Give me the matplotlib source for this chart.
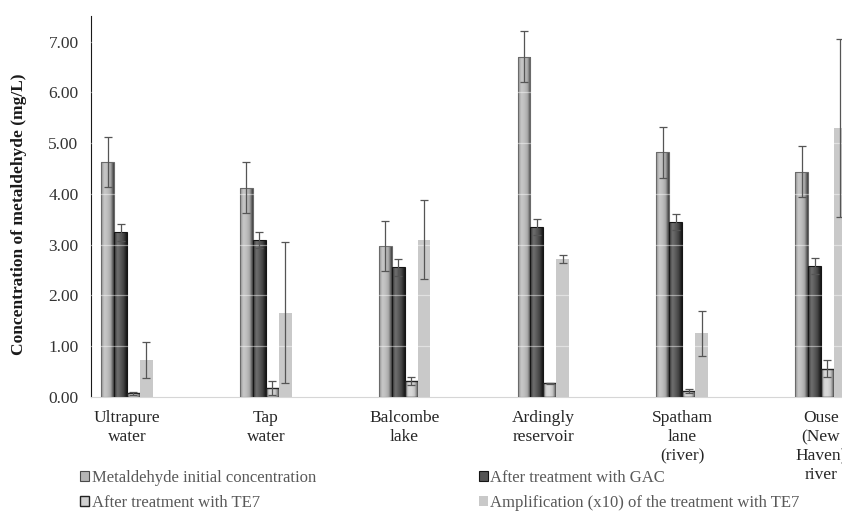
import matplotlib
matplotlib.use("Agg")
import matplotlib.pyplot as plt
from matplotlib.colors import LinearSegmentedColormap
from matplotlib.patches import Patch
import numpy as np

plt.rcParams["font.family"] = ["Liberation Serif", "DejaVu Serif"]

# Sample sites and measured metaldehyde concentrations (mg/L)
sites = ["Ultrapure\nwater", "Tap\nwater", "Balcombe\nlake", "Ardingly\nreservoir",
         "Spatham\nlane\n(river)", "Ouse\n(New\nHaven)\nriver"]
initial = [4.63, 4.12, 2.97, 6.71, 4.82, 4.44]
initial_err = [0.50, 0.50, 0.50, 0.50, 0.50, 0.50]
gac = [3.24, 3.09, 2.55, 3.34, 3.44, 2.58]
gac_err = [0.17, 0.15, 0.16, 0.16, 0.16, 0.16]
te7 = [0.07, 0.17, 0.31, 0.27, 0.12, 0.55]
te7_err = [0.03, 0.14, 0.08, 0.01, 0.04, 0.17]
amp = [0.72, 1.66, 3.10, 2.71, 1.25, 5.30]
amp_err = [0.35, 1.39, 0.78, 0.08, 0.44, 1.76]
yticks = [0, 1, 2, 3, 4, 5, 6, 7]

series_names = ["Metaldehyde initial concentration", "After treatment with GAC",
                "After treatment with TE7", "Amplification (x10) of the treatment with TE7"]

W, H = 842, 515
fig = plt.figure(figsize=(W / 100, H / 100), dpi=100)
fig.set_facecolor("white")

# axes spans past the right edge so the last group gets cut off
ax = fig.add_axes([91 / W, (H - 396.7) / H, 799.4 / W, 380.25 / H])
ax.set_facecolor("white")

x = np.arange(len(sites))
bw = 0.093


def shade(bars, stops):
    """Fill each bar with a horizontal gradient, like a bevelled column."""
    cmap = LinearSegmentedColormap.from_list("shade", stops)
    grad = np.linspace(0, 1, 64).reshape(1, -1)
    for b in bars:
        x0, y0 = b.get_x(), b.get_y()
        im = ax.imshow(grad, cmap=cmap, aspect="auto", interpolation="bicubic",
                       extent=(x0, x0 + b.get_width(), y0, y0 + b.get_height()),
                       zorder=2.5)
        im.set_clip_path(b)


b1 = ax.bar(x - 1.5 * bw, initial, bw, facecolor="none", edgecolor="#6a6a6a",
            linewidth=0.8, zorder=3)
b2 = ax.bar(x - 0.5 * bw, gac, bw, facecolor="none", edgecolor="#151515",
            linewidth=0.8, zorder=3)
b3 = ax.bar(x + 0.5 * bw, te7, bw, facecolor="none", edgecolor="#222222",
            linewidth=1.0, zorder=3)
b4 = ax.bar(x + 1.5 * bw, amp, bw, color="#c9c9c9", edgecolor="none", zorder=3)

shade(b1, ["#8e8e8e", "#c8c8c8", "#bebebe", "#a9a9a9", "#3a3a3a"])
shade(b2, ["#2a2a2a", "#707070", "#5c5c5c", "#444444", "#151515"])
shade(b3, ["#707070", "#d6d6d6", "#d9d9d9", "#c6c6c6", "#5a5a5a"])

# white gridlines: only visible where they cross the bars
for yv in yticks[1:]:
    ax.axhline(yv, color="white", alpha=0.45, linewidth=0.9, zorder=3.5)

for off, vals, errs in [(-1.5, initial, initial_err), (-0.5, gac, gac_err),
                        (0.5, te7, te7_err), (1.5, amp, amp_err)]:
    ax.errorbar(x + off * bw, vals, yerr=errs, fmt="none", ecolor="#555555",
                elinewidth=0.9, capsize=3, capthick=0.9, zorder=4)

ax.set_xlim(-0.2594, 5.5)
ax.set_ylim(0, 7.5)
ax.set_yticks(yticks)
ax.set_yticklabels([f"{v:.2f}" for v in yticks], fontsize=12.5, color="#333333")
ax.set_xticks(x)
ax.set_xticklabels(sites, fontsize=12.5, color="#262626", linespacing=1.25)
ax.tick_params(axis="both", length=0)
ax.tick_params(axis="y", pad=9)
ax.tick_params(axis="x", pad=9.5)

for side in ["top", "right"]:
    ax.spines[side].set_visible(False)
ax.spines["left"].set_color("#1a1a1a")
ax.spines["left"].set_linewidth(0.8)
ax.spines["bottom"].set_color("#d6d6d6")
ax.spines["bottom"].set_linewidth(0.8)

fig.text(19 / W, 1 - 214 / H, "Concentration of metaldehyde (mg/L)", rotation=90,
         ha="center", va="center", fontsize=12.5, fontweight="bold", color="#1a1a1a")

# legend filled column-wise: initial/TE7 on the left, GAC/amplification on the right
handles = [
    Patch(facecolor="#b5b5b5", edgecolor="#4a4a4a", linewidth=0.8),
    Patch(facecolor="#d0d0d0", edgecolor="#222222", linewidth=1.0),
    Patch(facecolor="#555555", edgecolor="#151515", linewidth=0.8),
    Patch(facecolor="#c9c9c9", edgecolor="none"),
]
labels = [series_names[0], series_names[2], series_names[1], series_names[3]]
leg = fig.legend(handles, labels, ncol=2, loc="upper left",
                 bbox_to_anchor=(65 / W, 1 - 455 / H), frameon=False,
                 fontsize=12, handlelength=0.55, handleheight=0.55,
                 handletextpad=0.15, columnspacing=9.76, labelspacing=0.55,
                 labelcolor="#595959")

fig.savefig("out.png", dpi=100, facecolor="white")
